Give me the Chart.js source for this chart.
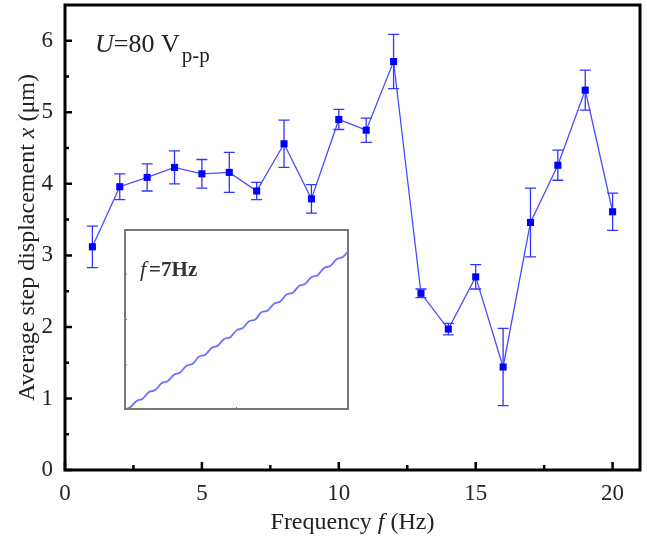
<!DOCTYPE html>
<html>
<head>
<meta charset="utf-8">
<script src="https://cdn.jsdelivr.net/npm/chart.js"></script>
<style>
body { margin: 0; background: #fff; }
#wrap { position: relative; width: 647px; height: 539px; }
#inset { position: absolute; left: 124px; top: 229px; }
</style>
</head>
<body>
<div id="wrap">
  <canvas id="chart1" width="647" height="539"></canvas>
  <canvas id="inset" width="225" height="181"></canvas>
</div>
<script>
// main data: frequency (Hz), average step displacement (um), error half-width
var freq = [1, 2, 3, 4, 5, 6, 7, 8, 9, 10, 11, 12, 13, 14, 15, 16, 17, 18, 19, 20];
var disp = [3.12, 3.96, 4.09, 4.23, 4.14, 4.16, 3.90, 4.56, 3.79, 4.90, 4.75, 5.71, 2.47, 1.97, 2.70, 1.44, 3.46, 4.26, 5.31, 3.61];
var err  = [0.29, 0.18, 0.19, 0.23, 0.20, 0.28, 0.12, 0.33, 0.20, 0.14, 0.17, 0.38, 0.06, 0.08, 0.17, 0.54, 0.48, 0.21, 0.28, 0.26];

var xMajor = [0, 5, 10, 15, 20];
var xMinor = [2.5, 7.5, 12.5, 17.5];
var yMajor = [0, 1, 2, 3, 4, 5, 6];
var yMinor = [0.5, 1.5, 2.5, 3.5, 4.5, 5.5];

// inset: displacement trace at f = 7 Hz (sampled)
var insetY = [0.00, 0.06, 0.20, 0.25, 0.40, 0.44, 0.59, 0.64, 0.78, 0.83, 0.98, 1.02, 1.18, 1.22,
              1.37, 1.42, 1.57, 1.61, 1.76, 1.81, 1.96, 2.00, 2.16, 2.20, 2.35, 2.40, 2.55, 2.59,
              2.74, 2.79, 2.94, 2.98, 3.14, 3.18, 3.33, 3.38, 3.53];
var insetYTicks = [1, 2, 3];
var insetXTicks = [18];

var serif = "'Liberation Serif', 'Times New Roman', serif";

var frame = {
    id: 'frame',
    beforeDatasetsDraw: function(chart) {
        var ctx = chart.ctx, xs = chart.scales.x, ys = chart.scales.y;
        ctx.save();
        ctx.strokeStyle = '#3434ff';
        ctx.lineWidth = 1.3;
        for (var i = 0; i < freq.length; i++) {
            var px = xs.getPixelForValue(freq[i]);
            var top = ys.getPixelForValue(disp[i] + err[i]);
            var bot = ys.getPixelForValue(disp[i] - err[i]);
            ctx.beginPath();
            ctx.moveTo(px, top); ctx.lineTo(px, bot);
            ctx.moveTo(px - 5.5, top); ctx.lineTo(px + 5.5, top);
            ctx.moveTo(px - 5.5, bot); ctx.lineTo(px + 5.5, bot);
            ctx.stroke();
        }
        ctx.restore();
    },
    afterDraw: function(chart) {
        var ctx = chart.ctx, a = chart.chartArea, xs = chart.scales.x, ys = chart.scales.y;
        ctx.save();
        ctx.strokeStyle = '#000';
        ctx.lineWidth = 3;
        ctx.strokeRect(a.left, a.top, a.right - a.left, a.bottom - a.top);
        ctx.lineWidth = 2.5;
        ctx.beginPath();
        xMajor.forEach(function(v) { var p = xs.getPixelForValue(v); ctx.moveTo(p, a.bottom); ctx.lineTo(p, a.bottom - 8); });
        xMinor.forEach(function(v) { var p = xs.getPixelForValue(v); ctx.moveTo(p, a.bottom); ctx.lineTo(p, a.bottom - 5); });
        yMajor.forEach(function(v) { var p = ys.getPixelForValue(v); ctx.moveTo(a.left, p); ctx.lineTo(a.left + 7, p); });
        yMinor.forEach(function(v) { var p = ys.getPixelForValue(v); ctx.moveTo(a.left, p); ctx.lineTo(a.left + 4, p); });
        ctx.stroke();

        ctx.fillStyle = '#222';
        // x title
        var p1 = 'Frequency ', p2 = 'f', p3 = ' (Hz)';
        ctx.textBaseline = 'alphabetic';
        ctx.font = '24px ' + serif;
        var w1 = ctx.measureText(p1).width, w3 = ctx.measureText(p3).width;
        ctx.font = 'italic 24px ' + serif;
        var w2 = ctx.measureText(p2).width;
        var sx = (a.left + a.right) / 2 - (w1 + w2 + w3) / 2, by = 529;
        ctx.font = '24px ' + serif; ctx.fillText(p1, sx, by);
        ctx.font = 'italic 24px ' + serif; ctx.fillText(p2, sx + w1, by);
        ctx.font = '24px ' + serif; ctx.fillText(p3, sx + w1 + w2, by);

        // y title
        var q1 = 'Average step displacement ', q2 = 'x', q3 = ' (\u03bcm)';
        ctx.save();
        ctx.translate(34, (a.top + a.bottom) / 2);
        ctx.rotate(-Math.PI / 2);
        ctx.font = '24px ' + serif;
        var v1 = ctx.measureText(q1).width, v3 = ctx.measureText(q3).width;
        ctx.font = 'italic 24px ' + serif;
        var v2 = ctx.measureText(q2).width;
        var s = -(v1 + v2 + v3) / 2;
        ctx.font = '24px ' + serif; ctx.fillText(q1, s, 0);
        ctx.font = 'italic 24px ' + serif; ctx.fillText(q2, s + v1, 0);
        ctx.font = '24px ' + serif; ctx.fillText(q3, s + v1 + v2, 0);
        ctx.restore();

        // voltage label
        ctx.font = 'italic 26px ' + serif;
        ctx.fillText('U', 95, 52);
        var uw = ctx.measureText('U').width;
        ctx.font = '26px ' + serif;
        ctx.fillText('=80 V', 95 + uw, 52);
        var ew = ctx.measureText('=80 V').width;
        ctx.font = '21px ' + serif;
        ctx.fillText('p-p', 97 + uw + ew, 62);
        ctx.restore();
    }
};

var ch1 = document.getElementById('chart1').getContext('2d');
var chart1 = new Chart(ch1, {
    type: 'line',
    data: {
        datasets: [{
            data: freq.map(function(f, i) { return { x: f, y: disp[i] }; }),
            borderColor: '#4a4aff',
            borderWidth: 1.3,
            pointStyle: 'rect',
            pointRadius: 5,
            pointBackgroundColor: '#0000ff',
            pointBorderColor: '#0000ff',
            pointBorderWidth: 0,
            tension: 0
        }]
    },
    options: {
        responsive: false,
        animation: false,
        layout: { padding: { top: 5, right: 7, left: 0, bottom: 0 } },
        plugins: { legend: { display: false }, tooltip: { enabled: false } },
        scales: {
            x: {
                type: 'linear', min: 0, max: 21,
                grid: { display: false, drawTicks: false },
                border: { display: false },
                afterBuildTicks: function(s) { s.ticks = xMajor.map(function(v) { return { value: v }; }); },
                afterFit: function(s) { s.height = 69; s.paddingLeft = 0; s.paddingRight = 0; },
                ticks: { font: { family: serif, size: 23 }, color: '#222', padding: 10, maxRotation: 0 }
            },
            y: {
                type: 'linear', min: 0, max: 6.5,
                grid: { display: false, drawTicks: false },
                border: { display: false },
                afterBuildTicks: function(s) { s.ticks = yMajor.map(function(v) { return { value: v }; }); },
                afterFit: function(s) { s.width = 65; s.paddingTop = 0; s.paddingBottom = 0; },
                ticks: { font: { family: serif, size: 23 }, color: '#222', padding: 12 }
            }
        }
    },
    plugins: [frame]
});

var insetFrame = {
    id: 'insetFrame',
    beforeDraw: function(chart) {
        var ctx = chart.ctx;
        ctx.save();
        ctx.fillStyle = '#fff';
        ctx.fillRect(0, 0, chart.width, chart.height);
        ctx.restore();
    },
    afterDraw: function(chart) {
        var ctx = chart.ctx, a = chart.chartArea, xs = chart.scales.x, ys = chart.scales.y;
        ctx.save();
        ctx.strokeStyle = '#777';
        ctx.lineWidth = 2;
        ctx.strokeRect(a.left + 1, a.top + 1, a.right - a.left - 2, a.bottom - a.top - 2);
        ctx.lineWidth = 1;
        ctx.beginPath();
        insetYTicks.forEach(function(v) { var p = ys.getPixelForValue(v); ctx.moveTo(a.left, p); ctx.lineTo(a.left + 3, p); });
        insetXTicks.forEach(function(v) { var p = xs.getPixelForValue(v); ctx.moveTo(p, a.bottom); ctx.lineTo(p, a.bottom - 3); });
        ctx.stroke();
        ctx.fillStyle = '#333';
        ctx.font = 'italic 22px ' + serif;
        ctx.fillText('f', 16, 47);
        var fw = ctx.measureText('f').width;
        ctx.font = 'bold 21px ' + serif;
        ctx.fillText('=7Hz', 19 + fw, 47);
        ctx.restore();
    }
};

var ch2 = document.getElementById('inset').getContext('2d');
var chart2 = new Chart(ch2, {
    type: 'line',
    data: {
        datasets: [{
            data: insetY.map(function(y, i) { return { x: i, y: y }; }),
            borderColor: '#7070ff',
            borderWidth: 1.8,
            pointRadius: 0,
            tension: 0.35,
            clip: false
        }]
    },
    options: {
        responsive: false,
        animation: false,
        layout: { padding: 0 },
        plugins: { legend: { display: false }, tooltip: { enabled: false } },
        scales: {
            x: { type: 'linear', min: 0, max: 36, display: false },
            y: { type: 'linear', min: 0, max: 4, display: false }
        }
    },
    plugins: [insetFrame]
});
</script>
</body>
</html>
